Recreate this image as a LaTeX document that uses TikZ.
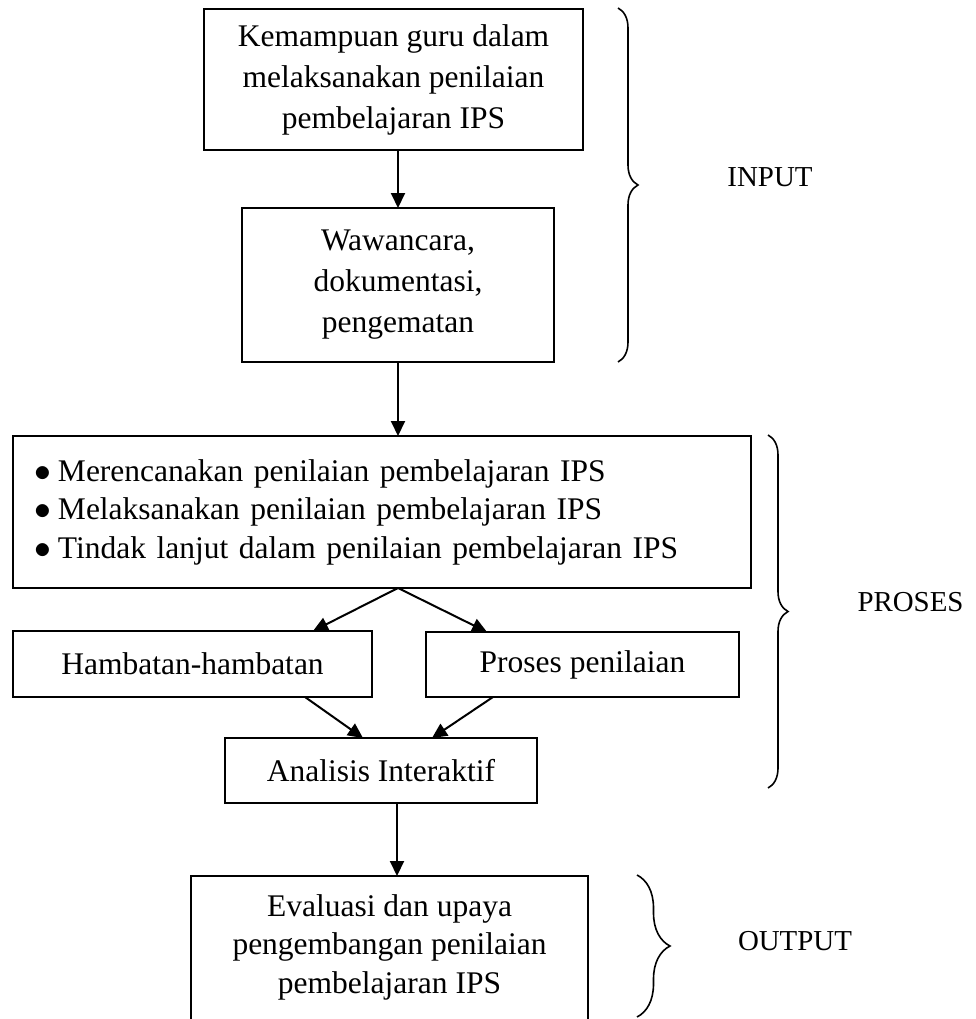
\documentclass[tikz,border=0pt]{standalone}
\usepackage{fontspec}
\setmainfont{Liberation Serif}
\usetikzlibrary{arrows.meta,decorations.pathreplacing}
\newcommand{\butir}{\makebox[24pt][l]{\scalebox{1.35}{$\bullet$}}}

\begin{document}
\begin{tikzpicture}[x=1pt, y=-1pt,
  every node/.style={font=\fontsize{31.5}{41}\selectfont},
  kotak/.style={draw, line width=2pt, align=center, inner sep=0pt, outer sep=0pt},
  panah/.style={line width=2pt, -{Triangle[length=15pt,width=14pt]}},
  kurung/.style={line width=1.6pt, decorate},
  keterangan/.style={font=\fontsize{28.9}{34}\selectfont}]
  \useasboundingbox (0,0) rectangle (975,1019);
  \node[kotak, minimum width=379pt, minimum height=141pt] (kemampuan) at (393.5,79.5)
    {Kemampuan guru dalam\\melaksanakan penilaian\\pembelajaran IPS};
  \node[kotak, minimum width=312pt, minimum height=154pt] (wawancara) at (398,285)
    {Wawancara,\\dokumentasi,\\pengematan};
  \node[kotak, align=left, text width=696pt, inner xsep=21pt, minimum height=152pt,
    font=\fontsize{31.5}{38.5}\selectfont] (kegiatan) at (382,512)
    {\butir Merencanakan penilaian pembelajaran IPS\\
     \butir Melaksanakan penilaian pembelajaran IPS\\
     \butir Tindak lanjut dalam penilaian pembelajaran IPS};
  \node[kotak, minimum width=359pt, minimum height=66pt] (hambatan) at (192.5,664) {Hambatan-hambatan};
  \node[kotak, minimum width=313pt, minimum height=65pt] (proses) at (582.5,664.5) {Proses penilaian};
  \node[kotak, minimum width=312pt, minimum height=65pt] (analisis) at (381,770.5) {Analisis Interaktif};
  \node[kotak, anchor=north, minimum width=397pt, inner ysep=18.5pt, text depth=30pt,
    font=\fontsize{31.5}{38.5}\selectfont] (evaluasi) at (389.5,876)
    {Evaluasi dan upaya\\pengembangan penilaian\\pembelajaran IPS};

  \draw[panah] (wawancara.north |- kemampuan.south) -- (wawancara.north);
  \draw[panah] (wawancara.south) -- (wawancara.south |- kegiatan.north);
  \coordinate (cabang) at (wawancara.south |- kegiatan.south);
  \draw[panah] (cabang) -- ([xshift=120.5pt]hambatan.north);
  \draw[panah] (cabang) -- ([xshift=-95.5pt]proses.north);
  \draw[panah] ([xshift=112.5pt]hambatan.south) -- ([xshift=-18pt]analisis.north);
  \draw[panah] ([xshift=-89.5pt]proses.south) -- ([xshift=51pt]analisis.north);
  \draw[panah] ([xshift=16pt]analisis.south) -- ([xshift=16pt]analisis.south |- evaluasi.north);

  \foreach \xa/\ya/\yb/\amp in {618/8/362/20, 768/435/788/20, 637/875/1017/33}
    \draw[kurung, decoration={brace, amplitude=\amp pt}] (\xa,\ya) -- (\xa,\yb);
  \node[keterangan] (input) at (770,177.5) {INPUT};
  \node[keterangan] (lproses) at (910.5,602.5) {PROSES};
  \node[keterangan] (output) at (795,941.5) {OUTPUT};
\end{tikzpicture}
\end{document}
